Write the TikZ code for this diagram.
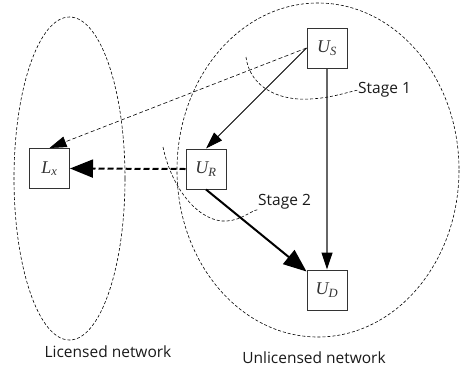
\documentclass[tikz,border=0pt]{standalone}
\usepackage{fontspec}
\setmainfont{Open Sans}
\newfontfamily\tms{Liberation Serif}
\usetikzlibrary{arrows.meta}
\begin{document}
\begin{tikzpicture}[x=1pt,y=-1pt,
  box/.style={draw=black!80, line width=1pt, minimum width=40pt, minimum height=40pt, inner sep=0pt, font=\tms\fontsize{18}{20}\selectfont\itshape, text=black!80},
  region/.style={draw=black, line width=0.6pt, dash pattern=on 3pt off 2pt},
  tip/.style={-{Triangle[length=17pt,width=11pt,color=black]}},
  bigtip/.style={-{Triangle[length=23pt,width=18pt]}},
  lbl/.style={font=\fontsize{15.5}{18}\selectfont, text=black!90, inner sep=0pt}]
\useasboundingbox (0,0) rectangle (461,373);
\draw[region] (69.5,178.5) ellipse [x radius=55.5, y radius=161.5];
\draw[region] (318,170) ellipse [x radius=141, y radius=167];
\node[box] (Us) at (327,48) {U\textsubscript{S}};
\node[box] (Ur) at (206,169) {U\textsubscript{R}};
\node[box] (Ud) at (327,290) {U\textsubscript{D}};
\node[box] (Lx) at (49.5,168.5) {L\textsubscript{x}};
\draw[tip, line width=0.6pt, dash pattern=on 4pt off 2.5pt] (Us.west) -- (Lx.north);
\draw[tip, line width=0.8pt] (Us.west) -- (Ur.north);
\draw[tip, line width=1.2pt, draw=black!60] (Us.south) -- (Ud.north);
\draw[bigtip, line width=2pt, dash pattern=on 6pt off 3pt] (Ur.west) -- (Lx.east);
\draw[bigtip, line width=2pt] (Ur.south) -- ([yshift=-2pt]Ud.north west);
\node[lbl, anchor=west] (st1) at (358,90) {Stage 1};
\draw[region] (246,57) .. controls (250,88) and (280,101) .. (310,99) .. controls (330,98) and (345,93) .. (st1.west);
\node[lbl, anchor=west] (st2) at (258,202) {Stage 2};
\draw[region] (163,147) .. controls (172,190) and (200,223) .. (227,221) .. controls (242,220) and (252,210) .. (st2.south west);
\node[lbl] (ln) at (108,352) {Licensed network};
\node[lbl] (un) at (314,358) {Unlicensed network};
\end{tikzpicture}
\end{document}
